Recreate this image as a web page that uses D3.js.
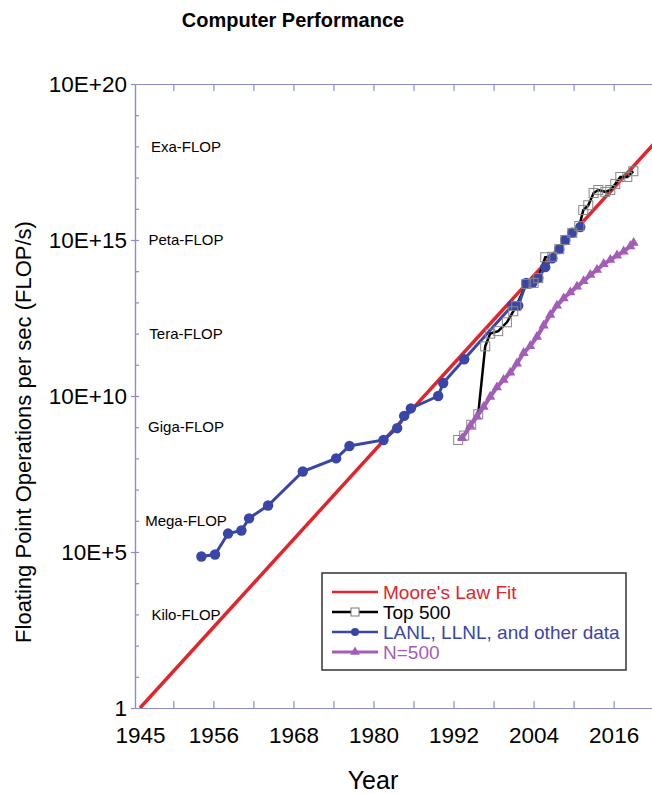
<!DOCTYPE html>
<html>
<head>
<meta charset="utf-8">
<script src="https://cdn.jsdelivr.net/npm/d3@7"></script>
<style>
  body { margin: 0; background: #fff; }
  svg { display: block; font-family: "Liberation Sans", Arial, sans-serif; }
</style>
</head>
<body>
<div id="chart"></div>
<script>
// data
var mooreYears = [1945, 2025];
var mooreFlops = [1, 6e18];

var top500Years = [1992.7, 1993.6, 1994.65, 1995.7, 1996.75, 1997.5, 1998.7, 2000.0, 2000.95, 2001.4, 2002.9, 2004.0, 2004.7, 2005.75, 2006.8, 2007.85, 2008.75, 2009.8, 2010.85, 2011.45, 2012.2, 2013.0, 2013.7, 2014.75, 2015.5, 2016.25, 2017.0, 2018.05, 2018.95];
var top500Flops = [3.9e8, 5.4e8, 1.2e9, 2.6e9, 3.9e11, 1.0e12, 1.2e12, 2.3e12, 5.2e12, 7.6e12, 3.9e13, 4.2e13, 6.0e13, 2.8e14, 2.9e14, 5.1e14, 1.0e15, 1.7e15, 2.8e15, 9.1e15, 1.3e16, 3.2e16, 4.0e16, 3.5e16, 4.0e16, 6.2e16, 1.05e17, 1.05e17, 1.6e17];

var labYears = [1954.2, 1956.25, 1958.2, 1960.2, 1961.35, 1964.2, 1969.4, 1974.4, 1976.4, 1981.5, 1983.55, 1984.6, 1985.6, 1989.7, 1990.45, 1993.6, 2000.8, 2001.7, 2002.9, 2003.8, 2004.7, 2005.75, 2006.8, 2007.85, 2008.75, 2009.8, 2011.0];
var labFlops = [7.2e4, 8.3e4, 3.9e5, 4.9e5, 1.2e6, 3.1e6, 3.8e7, 1.0e8, 2.5e8, 3.9e8, 9.3e8, 2.3e9, 4.0e9, 1.0e10, 2.6e10, 1.5e11, 7.9e12, 7.9e12, 4.2e13, 4.2e13, 6.0e13, 1.35e14, 2.6e14, 5.1e14, 1.0e15, 1.7e15, 2.6e15];

var n500Years = [1993.3, 1994.5, 1995.5, 1996.5, 1997.5, 1998.5, 1999.5, 2000.5, 2001.5, 2002.5, 2003.5, 2004.5, 2005.5, 2006.5, 2007.5, 2008.5, 2009.5, 2010.5, 2011.5, 2012.5, 2013.5, 2014.5, 2015.5, 2016.5, 2017.5, 2018.5, 2019.0];
var n500Flops = [4.5e8, 1.1e9, 2.2e9, 4.5e9, 9.5e9, 1.9e10, 3.3e10, 5.6e10, 1.1e11, 2.4e11, 4.0e11, 7.9e11, 1.8e12, 4.0e12, 7.9e12, 1.35e13, 2.1e13, 3.2e13, 4.8e13, 7.6e13, 1.1e14, 1.7e14, 2.3e14, 3.2e14, 4.3e14, 6.3e14, 8.1e14];

var xLabelYears = [1945, 1956, 1968, 1980, 1992, 2004, 2016];
var xLabels = ["1945", "1956", "1968", "1980", "1992", "2004", "2016"];
var xMinorYears = [1950, 1956, 1962, 1968, 1974, 1980, 1986, 1992, 1998, 2004, 2010, 2016, 2022];
var yLabelValues = [1, 1e5, 1e10, 1e15, 1e20];
var yLabels = ["1", "10E+5", "10E+10", "10E+15", "10E+20"];
var yDecades = [1e1, 1e2, 1e3, 1e4, 1e5, 1e6, 1e7, 1e8, 1e9, 1e10, 1e11, 1e12, 1e13, 1e14, 1e15, 1e16, 1e17, 1e18, 1e19];
var flopNames = ["Kilo-FLOP", "Mega-FLOP", "Giga-FLOP", "Tera-FLOP", "Peta-FLOP", "Exa-FLOP"];
var flopValues = [1e3, 1e6, 1e9, 1e12, 1e15, 1e18];

var legendNames = ["Moore's Law Fit", "Top 500", "LANL, LLNL, and other data", "N=500"];
var legendColors = ["#e0262b", "#000000", "#3a45a8", "#a35db8"];

var axisColor = "#8c8cc8";

// set the dimensions and margins of the graph
var margin = {top: 84, left: 135},
    width = 532,
    height = 624;

var svg = d3.select("#chart")
  .append("svg")
    .attr("width", 652)
    .attr("height", 794);

svg.append("rect").attr("width", 652).attr("height", 794).attr("fill", "#fff");

svg.append("text")
    .attr("x", 293)
    .attr("y", 27)
    .attr("text-anchor", "middle")
    .style("font-size", "20px")
    .style("font-weight", "bold")
    .text("Computer Performance");

var g = svg.append("g")
    .attr("transform", "translate(" + margin.left + "," + margin.top + ")");

var x = d3.scaleLinear().domain([1944.25, 2024]).range([0, width]);
var y = d3.scaleLog().domain([1, 1e20]).range([height, 0]);

g.append("clipPath").attr("id", "clip")
  .append("rect").attr("width", width).attr("height", height);

// axes
function styleAxis(sel) {
  sel.selectAll("path, line").attr("stroke", axisColor).attr("stroke-width", 1.2);
  sel.selectAll("text").attr("fill", "#000").style("font-family", "'Liberation Sans', Arial, sans-serif");
}

g.append("g")
    .attr("transform", "translate(0," + height + ")")
    .call(d3.axisTop(x).tickValues(xMinorYears).tickSize(7).tickSizeOuter(0).tickFormat(""))
    .call(styleAxis);

g.append("g")
    .call(d3.axisBottom(x).tickValues(xMinorYears).tickSize(7).tickSizeOuter(0).tickFormat(""))
    .call(styleAxis);

g.append("g")
    .attr("transform", "translate(0," + height + ")")
    .call(d3.axisBottom(x).tickValues(xLabelYears).tickSize(0).tickPadding(19)
      .tickFormat(function(d, i) { return xLabels[i]; }))
    .call(styleAxis)
    .call(function(s) { s.select(".domain").remove(); })
    .selectAll("text").style("font-size", "22.5px");

g.append("g")
    .call(d3.axisRight(y).tickValues(yDecades).tickSize(4).tickSizeOuter(0).tickFormat(""))
    .call(styleAxis);

g.append("g")
    .call(d3.axisLeft(y).tickValues(yLabelValues).tickSize(4).tickPadding(4).tickSizeOuter(0)
      .tickFormat(function(d, i) { return yLabels[i]; }))
    .call(styleAxis)
    .selectAll("text").style("font-size", "22.5px");

svg.append("text")
    .attr("transform", "translate(23,432) rotate(-90)")
    .attr("text-anchor", "middle")
    .attr("dy", "0.35em")
    .style("font-size", "22px")
    .text("Floating Point Operations per sec (FLOP/s)");

svg.append("text")
    .attr("x", 373)
    .attr("y", 789)
    .attr("text-anchor", "middle")
    .style("font-size", "25px")
    .text("Year");

g.selectAll(".flopname")
  .data(flopNames)
  .enter().append("text")
    .attr("class", "flopname")
    .attr("x", 51)
    .attr("y", function(d, i) { return y(flopValues[i]); })
    .attr("dy", "0.35em")
    .attr("text-anchor", "middle")
    .style("font-size", "15px")
    .text(function(d) { return d; });

// series
var plot = g.append("g").attr("clip-path", "url(#clip)");

var line = d3.line()
    .x(function(d) { return x(d[0]); })
    .y(function(d) { return y(d[1]); });

var moore = d3.zip(mooreYears, mooreFlops);
var top500 = d3.zip(top500Years, top500Flops);
var lab = d3.zip(labYears, labFlops);
var n500 = d3.zip(n500Years, n500Flops);

plot.append("path")
    .datum(moore)
    .attr("fill", "none")
    .attr("stroke", legendColors[0])
    .attr("stroke-width", 3.5)
    .attr("d", line);

plot.append("path")
    .datum(top500)
    .attr("fill", "none")
    .attr("stroke", legendColors[1])
    .attr("stroke-width", 2.5)
    .attr("d", line);

plot.append("path")
    .datum(lab)
    .attr("fill", "none")
    .attr("stroke", legendColors[2])
    .attr("stroke-width", 3)
    .attr("d", line);

plot.selectAll(".labdot")
  .data(lab)
  .enter().append("circle")
    .attr("class", "labdot")
    .attr("cx", function(d) { return x(d[0]); })
    .attr("cy", function(d) { return y(d[1]); })
    .attr("r", 5.2)
    .attr("fill", legendColors[2]);

plot.selectAll(".topsq")
  .data(top500)
  .enter().append("rect")
    .attr("class", "topsq")
    .attr("x", function(d) { return x(d[0]) - 4.5; })
    .attr("y", function(d) { return y(d[1]) - 4.5; })
    .attr("width", 9)
    .attr("height", 9)
    .attr("fill", "none")
    .attr("stroke", "#888")
    .attr("stroke-width", 1);

plot.append("path")
    .datum(n500)
    .attr("fill", "none")
    .attr("stroke", legendColors[3])
    .attr("stroke-width", 4)
    .attr("d", line);

var tri = d3.symbol().type(d3.symbolTriangle).size(45);
plot.selectAll(".n500tri")
  .data(n500)
  .enter().append("path")
    .attr("class", "n500tri")
    .attr("transform", function(d) { return "translate(" + x(d[0]) + "," + y(d[1]) + ")"; })
    .attr("d", tri)
    .attr("fill", legendColors[3]);

// legend
var legend = svg.append("g").attr("transform", "translate(322,573)");

legend.append("rect")
    .attr("width", 304)
    .attr("height", 97)
    .attr("fill", "#fff")
    .attr("stroke", "#333")
    .attr("stroke-width", 1.5);

var rows = legend.selectAll(".row")
  .data(legendNames)
  .enter().append("g")
    .attr("class", "row")
    .attr("transform", function(d, i) { return "translate(0," + (19 + i * 20) + ")"; });

rows.append("line")
    .attr("x1", 10).attr("x2", 56)
    .attr("stroke", function(d, i) { return legendColors[i]; })
    .attr("stroke-width", function(d, i) { return i === 3 ? 3 : 2.5; });

rows.filter(function(d, i) { return i === 1; }).append("rect")
    .attr("x", 29).attr("y", -4).attr("width", 8).attr("height", 8)
    .attr("fill", "#fff").attr("stroke", "#777");

rows.filter(function(d, i) { return i === 2; }).append("circle")
    .attr("cx", 33).attr("r", 4)
    .attr("fill", legendColors[2]);

rows.filter(function(d, i) { return i === 3; }).append("path")
    .attr("transform", "translate(33,0)")
    .attr("d", d3.symbol().type(d3.symbolTriangle).size(40))
    .attr("fill", legendColors[3]);

rows.append("text")
    .attr("x", 61)
    .attr("dy", "0.35em")
    .attr("fill", function(d, i) { return legendColors[i]; })
    .style("font-size", "19px")
    .text(function(d) { return d; });
</script>
</body>
</html>
